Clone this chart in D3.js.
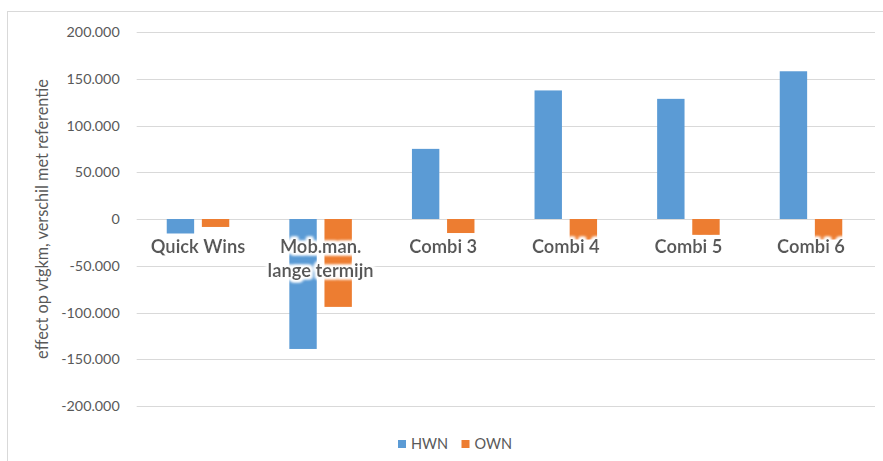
<!DOCTYPE html>
<html>
<head>
<meta charset="utf-8">
<script src="https://cdn.jsdelivr.net/npm/d3@7"></script>
<style>
  html, body { margin: 0; padding: 0; background: #ffffff; }
  svg { display: block; font-family: Lato, "Open Sans", sans-serif; }
</style>
</head>
<body>
<svg id="chart" width="883" height="461"></svg>
<script>
// Scenario categories (label lines) and the change in vehicle-km per road network
const categories = ["Quick Wins", "Mob.man. lange termijn", "Combi 3", "Combi 4", "Combi 5", "Combi 6"];
const categoryLines = [["Quick Wins"], ["Mob.man.", "lange termijn"], ["Combi 3"], ["Combi 4"], ["Combi 5"], ["Combi 6"]];
const seriesNames = ["HWN", "OWN"];
const hwnValues = [-15500, -139000, 75000, 137500, 128500, 158000];
const ownValues = [-8500, -94000, -15000, -22000, -17000, -22000];
const yTicks = [-200000, -150000, -100000, -50000, 0, 50000, 100000, 150000, 200000];
const yTitle = "effect op vtgkm, verschil met referentie";
const colors = ["#5B9BD5", "#ED7D31"];

const svg = d3.select("#chart");

// Chart-area frame
svg.append("rect")
  .attr("x", 7.5).attr("y", 11.5)
  .attr("width", 900).attr("height", 500)
  .attr("fill", "#ffffff")
  .attr("stroke", "#D9D9D9").attr("stroke-width", 1);

const plotLeft = 136.7, plotRight = 872.3;
const y = d3.scaleLinear().domain([-200000, 200000]).range([406, 32]);
const x0 = d3.scaleBand().domain(categories).range([plotLeft, plotRight])
  .paddingInner(0.49).paddingOuter(0.245);
const x1 = d3.scaleBand().domain(seriesNames).range([0, x0.bandwidth()])
  .paddingInner(0.22).paddingOuter(0);

const nl = d3.formatLocale({ decimal: ",", thousands: ".", grouping: [3], currency: ["€", ""], minus: "-" });
const fmt = nl.format(",.0f");

// Horizontal gridlines
svg.append("g").selectAll("line")
  .data(yTicks).join("line")
  .attr("x1", plotLeft).attr("x2", 875)
  .attr("y1", d => Math.round(y(d)) + 0.5).attr("y2", d => Math.round(y(d)) + 0.5)
  .attr("stroke", "#D9D9D9").attr("stroke-width", 1);

// Y axis labels
const yAxis = svg.append("g")
  .attr("transform", `translate(${plotLeft},0)`)
  .call(d3.axisLeft(y).tickValues(yTicks).tickFormat(fmt).tickSize(0).tickPadding(17));
yAxis.select(".domain").remove();
yAxis.selectAll("text")
  .attr("fill", "#595959")
  .style("font-family", "Lato, sans-serif")
  .style("font-size", "14.3px");

// Y axis title
svg.append("text")
  .attr("transform", `translate(48,219) rotate(-90)`)
  .attr("text-anchor", "middle")
  .attr("fill", "#595959")
  .style("font-size", "16.3px")
  .text(yTitle);

// Bars
const rows = categories.map((c, i) => ({ cat: c, vals: [hwnValues[i], ownValues[i]] }));
const groups = svg.append("g").selectAll("g")
  .data(rows).join("g")
  .attr("transform", d => `translate(${x0(d.cat)},0)`);
groups.selectAll("rect")
  .data(d => d.vals.map((v, j) => ({ key: seriesNames[j], v, j })))
  .join("rect")
  .attr("x", d => x1(d.key))
  .attr("width", x1.bandwidth())
  .attr("y", d => y(Math.max(0, d.v)))
  .attr("height", d => Math.abs(y(d.v) - y(0)))
  .attr("fill", d => colors[d.j]);

// Soft white halo behind category labels
const defs = svg.append("defs");
const halo = defs.append("filter").attr("id", "halo")
  .attr("x", "-10%").attr("y", "-30%").attr("width", "120%").attr("height", "160%");
halo.append("feMorphology").attr("in", "SourceAlpha").attr("operator", "dilate").attr("radius", 1.5).attr("result", "thick");
halo.append("feFlood").attr("flood-color", "#ffffff").attr("result", "white");
halo.append("feComposite").attr("in", "white").attr("in2", "thick").attr("operator", "in").attr("result", "glow");
halo.append("feGaussianBlur").attr("in", "glow").attr("stdDeviation", 1.6).attr("result", "soft");
const merge = halo.append("feMerge");
merge.append("feMergeNode").attr("in", "soft");
merge.append("feMergeNode").attr("in", "soft");
merge.append("feMergeNode").attr("in", "SourceGraphic");

// Category labels via a bottom axis on the zero line
const xAxis = svg.append("g")
  .attr("transform", `translate(0,${y(0)})`)
  .call(d3.axisBottom(x0).tickSize(0).tickPadding(0));
xAxis.select(".domain").remove();
xAxis.selectAll(".tick text").each(function (d) {
  const lines = categoryLines[categories.indexOf(d)];
  const t = d3.select(this).text(null)
    .attr("y", 0).attr("dy", null)
    .attr("fill", "#595959")
    .attr("filter", "url(#halo)")
    .style("font-family", "Lato, sans-serif")
    .style("font-weight", "bold")
    .style("font-size", "18.3px");
  lines.forEach((ln, k) => {
    t.append("tspan").attr("x", 0).attr("y", 33.5 + k * 24.5).text(ln);
  });
});

// Legend
const legend = svg.append("g");
const legendX = [398, 461.5];
seriesNames.forEach((s, i) => {
  legend.append("rect")
    .attr("x", legendX[i]).attr("y", 440)
    .attr("width", 8).attr("height", 8)
    .attr("fill", colors[i]);
  legend.append("text")
    .attr("x", legendX[i] + 13).attr("y", 448.5)
    .attr("fill", "#595959")
    .style("font-size", "14.5px")
    .text(s);
});
</script>
</body>
</html>
